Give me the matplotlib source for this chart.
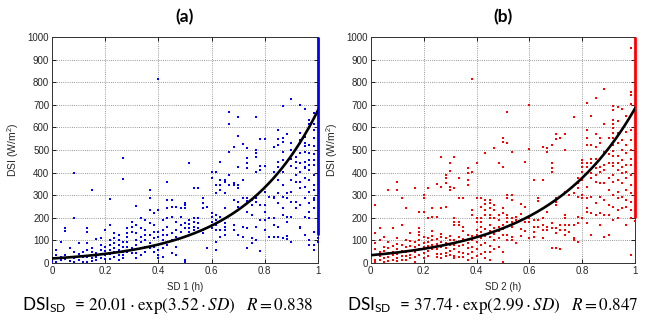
import matplotlib
matplotlib.use('Agg')
import matplotlib.pyplot as plt
import numpy as np

plt.rcParams['mathtext.fontset'] = 'stix'
plt.rcParams['font.family'] = ['Liberation Sans', 'DejaVu Sans']

# ---------------- data: panel (a) SD 1 -----------------
# sunshine duration in minutes of the hour (x = minutes/60), DSI values (W/m2)
sd1_minutes = list(range(60))
dsi1_values = [
    [10, 4], [58, 36, 21, 6], [95, 28, 13], [157, 142, 36, 17], [65, 28, 9],
    [397, 201, 50, 21, 6], [87, 39, 13], [48, 28, 6], [157, 139, 87, 58, 28, 6],
    [323, 68, 48, 24, 9], [106, 43, 28, 13], [112, 80, 58, 39, 21],
    [146, 73, 53, 36, 18], [284, 168, 102, 80, 58, 39, 18], [132, 109, 87, 65, 48, 28],
    [124, 102, 80, 58, 36, 13], [466, 372, 95, 73, 50, 36, 21], [154, 132, 117, 95, 73, 50],
    [183, 161, 139, 65, 43], [254, 168, 132, 102, 80, 43, 21], [198, 154, 117, 95, 65, 36],
    [191, 146, 124, 102, 73, 50], [323, 286, 235, 176, 124, 87, 65], [220, 168, 139, 109, 73, 50],
    [814, 235, 139, 117, 80, 58, 36, 21], [191, 146, 124, 102, 65, 28],
    [360, 279, 242, 198, 161, 124, 80], [279, 250, 205, 132, 102, 43],
    [250, 183, 146, 117, 73, 36], [242, 205, 168, 139, 109],
    [264, 257, 245, 176, 154, 13, 6], [444, 191, 171, 154, 139], [331, 198, 180, 161, 146],
    [331, 198, 176, 154], [286, 264, 242, 146, 132], [250, 65],
    [404, 375, 220, 205, 183, 168, 154], [402, 345, 309, 213, 191, 168, 146, 95, 58],
    [448, 368, 345, 323, 205, 146, 117], [368, 357, 309, 242, 176, 161, 146, 124],
    [670, 615, 491, 390, 345], [514, 353, 343, 279, 168, 146],
    [647, 561, 424, 345, 331, 272, 250, 124], [525, 368, 286, 161, 117],
    [507, 463, 444, 419, 286, 275, 227, 154, 65], [279, 257, 213, 109, 87],
    [645, 502, 488, 471, 404, 286, 272, 161, 102], [550, 430, 412, 316, 257, 191, 55],
    [550, 427, 316, 257, 227, 191, 146], [294, 198, 117],
    [512, 404, 294, 286, 198, 168, 116], [588, 550, 520, 448, 426, 368, 309, 264, 161, 117],
    [695, 555, 536, 491, 454, 404, 345, 294, 242, 213, 109], [570, 309, 286, 205, 183, 120, 105],
    [726, 531, 499, 462, 427, 368, 316, 272, 205, 95], [506, 469, 447, 419, 390, 360, 272, 242],
    [698, 575, 545, 530, 486, 442, 404, 360, 331, 257, 161, 154],
    [680, 556, 532, 516, 490, 448, 426, 419, 375, 338, 286, 205, 124],
    [633, 614, 522, 485, 456, 434, 412, 368, 316, 264, 227, 198, 100, 80],
    [663, 615, 589, 552, 516, 483, 456, 434, 390, 345, 323, 286, 279, 242, 139, 80, 58],
]
sd1_full_range = (125, 1000)      # dense column of values at SD = 1
sd1_full_extra = [110, 95]
fit1 = (20.01, 3.52)

# ---------------- data: panel (b) SD 2 -----------------
sd2_minutes = list(range(60))
dsi2_values = [
    [28, 13, 4], [257, 132, 88, 60, 36, 15, 5], [154, 100, 50, 30, 12],
    [117, 70, 55, 40, 20, 6], [323, 95, 65, 45, 25, 10], [157, 75, 50, 35, 15],
    [360, 323, 110, 85, 60, 40, 20, 8], [286, 168, 80, 55, 30, 12], [245, 100, 70, 50, 30, 15],
    [132, 98, 75, 55, 35, 20], [331, 95, 70, 50, 25, 5], [227, 154, 139, 124, 100, 80, 60, 35],
    [301, 286, 227, 115, 90, 70, 45, 20], [331, 201, 110, 95, 75, 55, 30],
    [242, 205, 140, 120, 100, 80, 60], [348, 205, 105, 85, 60, 40, 25],
    [470, 338, 242, 130, 115, 95, 70, 40, 20], [390, 378, 353, 250, 110, 90, 65, 45, 30],
    [444, 407, 338, 323, 120, 100, 80, 55, 35], [468, 331, 201, 183, 168, 100, 80, 60, 30, 20],
    [375, 286, 180, 166, 115, 95, 75, 50, 25], [286, 161, 140, 105, 80, 45, 25],
    [419, 397, 368, 343, 125, 90, 65, 40, 15], [814, 404, 235, 213, 120, 100, 70, 50, 20],
    [444, 286, 198, 180, 145, 125, 95, 60, 30], [286, 250, 198, 180, 161, 135, 110, 80, 40],
    [488, 279, 260, 235, 213, 150, 120, 90, 50, 20],
    [279, 264, 242, 213, 198, 168, 140, 115, 75, 50, 15],
    [507, 257, 235, 198, 155, 130, 100, 60], [444, 213, 191, 160, 140, 110, 70],
    [552, 537, 423, 242, 220, 170, 150, 125, 50, 6],
    [670, 532, 301, 286, 213, 201, 183, 124, 102], [491, 301, 279, 201, 183, 161, 117, 102],
    [205, 191, 87], [260, 215, 190, 150, 120], [446, 250, 180, 140],
    [700, 503, 198, 183, 109], [368, 191, 161, 139, 117], [286, 275, 191, 161],
    [514, 368, 198, 168, 146, 109], [511, 492, 227, 161, 146],
    [524, 444, 419, 404, 176, 154, 65], [570, 548, 286, 272, 257, 154, 132, 65],
    [551, 168, 146, 62], [570, 499, 316, 213, 198, 168, 146, 124], [301, 168, 139],
    [647, 309, 168, 109, 102], [375, 353, 331, 294, 205, 176, 95],
    [456, 441, 426, 404, 368, 301, 286, 198],
    [709, 590, 555, 521, 444, 426, 338, 286, 242, 227, 176],
    [650, 521, 462, 441, 397, 375, 294, 220, 124],
    [728, 573, 514, 458, 437, 419, 390, 360, 264, 213],
    [553, 531, 426, 404, 353, 294, 220, 168],
    [768, 613, 492, 432, 412, 353, 279, 213, 117],
    [553, 484, 442, 375, 323, 257, 213, 124],
    [696, 678, 634, 616, 597, 575, 553, 524, 494, 472, 442, 427, 390, 360, 301, 250, 191],
    [690, 627, 575, 531, 475, 442, 412, 368, 316, 286, 235, 198],
    [681, 590, 546, 499, 456, 426, 397, 353, 294, 242],
    [650, 578, 521, 485, 434, 404, 375, 323, 279, 250, 168],
    [950, 758, 743, 703, 588, 543, 499, 462, 432, 390, 345, 309, 272, 235, 198, 36],
]
sd2_full_range = (200, 1000)
sd2_full_extra = [185]
fit2_drawn = (34.5, 2.99)   # curve as drawn in the figure

x_ticks = [0, 0.2, 0.4, 0.6, 0.8, 1.0]
x_tick_labels = ['0', '0.2', '0.4', '0.6', '0.8', '1']
y_ticks = list(range(0, 1001, 100))

W, H = 649, 321
fig = plt.figure(figsize=(W / 100, H / 100), dpi=100)
axA = fig.add_axes([52 / W, 58 / H, 266 / W, 226 / H])
axB = fig.add_axes([370.7 / W, 58 / H, 264.6 / W, 226 / H])


def draw(ax, minutes, values, full_range, full_extra, color, fit, xlabel):
    xs, ys = [], []
    for m, vals in zip(minutes, values):
        xs += [m / 60.0] * len(vals)
        ys += vals
    ax.plot(xs, ys, 's', ms=1.9, mew=0, color=color, zorder=3)
    ax.vlines(1.0, full_range[0], full_range[1], color=color, lw=2.0, zorder=4, clip_on=False)
    ax.plot([1.0] * len(full_extra), full_extra, 's', ms=1.9, mew=0, color=color,
            zorder=3, clip_on=False)
    xx = np.linspace(0, 1, 300)
    ax.plot(xx, fit[0] * np.exp(fit[1] * xx), '-', color='black', lw=1.9, zorder=5)
    ax.set_xlim(0, 1)
    ax.set_ylim(0, 1000)
    ax.set_xticks(x_ticks)
    ax.set_xticklabels(x_tick_labels)
    ax.set_yticks(y_ticks)
    ax.grid(True, ls=(0, (1, 1.6)), color='#777777', lw=0.6)
    ax.set_axisbelow(True)
    ax.tick_params(direction='in', length=3, width=0.6, top=True, right=True,
                   labelsize=7, labelcolor='#262626', pad=2)
    for s in ax.spines.values():
        s.set_linewidth(0.7)
        s.set_color('#333333')
    ax.set_xlabel(xlabel, fontsize=7, color='#262626', labelpad=1)
    ax.set_ylabel('DSI (W/m$\\mathregular{^2}$)', fontsize=7.5, color='#262626')
    ax.yaxis.set_label_coords(-0.115, 0.5)
    ax.xaxis.set_label_coords(0.5, -0.085)


draw(axA, sd1_minutes, dsi1_values, sd1_full_range, sd1_full_extra, (0, 0, 1), fit1, 'SD 1 (h)')
draw(axB, sd2_minutes, dsi2_values, sd2_full_range, sd2_full_extra, (1, 0, 0), fit2_drawn, 'SD 2 (h)')

fig.text((52 + 133) / W, 1 - 17 / H, '(a)', fontsize=12.5, fontweight='bold',
         family=['Lato', 'DejaVu Sans'], ha='center', va='center')
fig.text((370.7 + 132.3) / W, 1 - 17 / H, '(b)', fontsize=12.5, fontweight='bold',
         family=['Lato', 'DejaVu Sans'], ha='center', va='center')

eqA = r'DSI$_{\mathregular{SD}}$  = $20.01\cdot\mathrm{exp}(3.52\cdot SD)\quad R=0.838$'
eqB = r'DSI$_{\mathregular{SD}}$  = $37.74\cdot\mathrm{exp}(2.99\cdot SD)\quad R=0.847$'
fig.text(22 / W, 1 - 310 / H, eqA, fontsize=12.3, ha='left', va='baseline',
         family=['Lato', 'DejaVu Sans'])
fig.text(347 / W, 1 - 310 / H, eqB, fontsize=12.3, ha='left', va='baseline',
         family=['Lato', 'DejaVu Sans'])

fig.savefig('out.png', dpi=100)
